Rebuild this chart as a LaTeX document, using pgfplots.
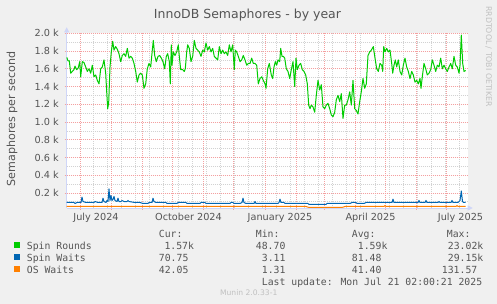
\documentclass[border=0pt]{standalone}
\usepackage{fontspec}
\setmainfont{DejaVu Sans}
\newfontfamily\monofont{DejaVu Sans Mono}
\usepackage{pgfplots}
\usepackage{pgfplotstable}
\pgfplotsset{compat=1.18}
\usetikzlibrary{arrows.meta}
\definecolor{bgc}{HTML}{F0F0F0}
\definecolor{txt}{HTML}{555555}
\definecolor{axc}{HTML}{CFD6F8}
\definecolor{mgrid}{HTML}{F4A0A0}
\definecolor{mingrid}{HTML}{D2D2D2}
\definecolor{cgreen}{HTML}{00CC00}
\definecolor{cblue}{HTML}{0066B3}
\definecolor{corange}{HTML}{FF8000}
\definecolor{wm}{HTML}{C0C0C0}

\pgfplotstableread{
d v
-13.3 1730
-12 1690
-10.7 1690
-9.3 1550
-7.7 1570
-6 1590
-5 1630
-3.3 1590
-1.7 1610
-0.3 1680
0.7 1510
2.3 1680
4 1670
5.7 1620
7.3 1570
9 1600
10.7 1550
12.3 1640
14 1510
15.7 1530
17.3 1470
19 1430
20.7 1600
22.3 1620
24 1700
25.7 1550
26.7 1340
27.7 1150
28.7 1220
30 1620
31.3 1790
32.7 1910
34 1810
35.7 1850
37.3 1820
39 1770
40.7 1680
42.3 1750
44 1770
45.7 1740
47.3 1830
49 1720
50.7 1740
52.3 1720
54 1660
55.7 1570
57.3 1450
59 1530
60.7 1550
62.3 1530
64 1380
65.7 1430
67.3 1600
69 1660
70.7 1620
72.3 1810
73.3 1920
74.7 1750
76.3 1680
78 1740
79.7 1750
81.3 1720
83 1680
84.7 1600
86.3 1740
87.7 1770
89.3 1680
90.3 1430
91.3 1870
92 1640
93.3 1790
95 1750
96.7 1790
98.3 1870
99.3 1740
100.7 1590
102.7 1590
104.3 1570
105.3 1600
106.7 1790
107.7 1870
109.3 1830
111 1680
112.7 1740
114.3 1920
116 1830
117.7 1810
119.3 1790
121 1740
122.7 1810
124.3 1790
126 1890
127.7 1810
129.3 1850
131 1790
132.7 1830
134.3 1740
136 1720
137.7 1700
139.3 1850
141 1770
142.7 1810
144.3 1770
146 1790
147.7 1750
149.3 1870
151 1790
152.7 1870
154.3 1590
155.3 1810
156.7 1790
158.3 1740
160 1680
161.7 1700
163.3 1750
165 1700
166.7 1640
168.3 1660
170 1660
171.7 1720
173.3 1660
175 1660
176.7 1640
178.3 1430
180 1490
181.7 1510
183.3 1470
185 1430
186 1380
187.7 1600
189.3 1660
191.3 1530
192.7 1490
194 1620
195.3 1680
196.7 1640
198 1700
199.7 1680
200.7 1830
202 1740
203.3 1740
204.7 1720
206.3 1600
208 1570
209.7 1490
211.3 1590
213 1680
214.7 1400
216 1720
217.3 1590
219 1640
220.7 1660
222.3 1590
224 1570
225.7 1530
227.3 1430
228.7 1190
230 1150
231.3 1190
233 1170
234.7 1110
236.3 1300
238 1470
239.7 1360
241.3 1420
243 1170
244.7 1150
246.3 1190
248 1210
249.7 1150
251.3 1080
253 1060
254.7 1110
256.3 1250
258 1300
259.7 1230
261.3 1320
263 1040
264.7 1190
266.3 1190
268 1250
269.7 1340
271.3 1190
273 1470
274.7 1150
276.3 1130
278 1090
279.7 1230
281.3 1340
283 1490
284.7 1380
286.3 1430
288 1750
289.7 1790
291.3 1810
293.3 1850
295 1720
296.7 1600
298.3 1570
300 1660
301.7 1640
302.7 1570
303.7 1850
305 1790
306.7 1830
308.3 1790
310 1810
311.7 1660
312.7 1550
314 1640
315.3 1700
316.7 1620
318.3 1700
320 1570
321.7 1530
323.3 1640
325 1720
326.7 1620
328.3 1570
330 1490
331.7 1570
333.3 1530
335 1450
336.7 1470
338.3 1430
340 1490
341 1380
342.3 1510
344 1660
345.7 1600
347.3 1530
349 1550
350.7 1590
352.3 1700
354 1640
355.7 1570
357.3 1640
359 1620
360.7 1720
362.3 1600
364 1640
365.7 1600
367.3 1570
369 1620
370.7 1660
372.3 1600
374 1740
375.7 1640
377.3 1620
379 1550
380 1640
381.3 1980
382.7 1660
384 1570
385.7 1580
}\spinrounds

\pgfplotstableread{
d v
-13.3 92
-6 92
-5 81
-3 92
1 92
2 152
3 103
6 92
14 92
15 103
18 92
22 92
23 140
24 103
26 92
27 115
28 103
29 245
30 115
31 170
32 115
33 126
34 160
35 115
37 103
38 140
39 103
41 103
42 115
44 103
47 103
48 115
49 103
55 92
60 92
63 81
68 81
69 92
72 92
73 140
74 103
76 92
86 92
87 81
97 81
98 92
106 92
107 81
120 81
121 92
125 92
126 81
150 81
151 92
153 92
154 81
160 81
162 92
163 140
164 92
166 81
174 81
175 103
176 81
198 81
199 92
200 130
201 92
204 92
205 81
228 81
229 70
246 70
247 81
270 81
272 92
276 92
277 81
284 81
286 92
312 92
313 130
314 92
338 92
339 115
340 92
345 92
346 115
347 92
358 92
359 103
360 92
371 92
372 115
373 92
378 92
379 103
380 115
381.3 222
382.5 103
383.5 92
385.7 92
}\spinwaits

\pgfplotstableread{
d v
-13.3 47
226 47
229 36
262 36
265 47
304 47
305 58
306 47
376 47
377 58
378 47
385.7 47
}\oswaits

\begin{document}
\begin{tikzpicture}[x=1pt,y=1pt]
\fill[bgc] (0,0) rectangle (497,304);
\begin{axis}[
  at={(66.7pt,96pt)}, anchor=south west,
  scale only axis, width=401.3pt, height=174.7pt,
  xmin=-13.3, xmax=388, ymin=30, ymax=2000,
  axis x line=bottom, axis y line=left,
  axis background/.style={fill=white},
  x axis line style={draw=axc, line width=0.6pt, -{Triangle[length=5pt,width=5pt]}, shorten >=-4.7pt},
  y axis line style={draw=axc, line width=0.6pt, -{Triangle[length=5pt,width=5pt]}, shorten >=-6pt},
  xtick={0,31.1,62.3,92.4,123.6,153.7,184.9,216,244.2,275.3,305.5,336.6,366.7},
  xticklabels={},
  minor xtick={13.4,27.47,...,386},
  extra x ticks={16,108.5,200,290.5,380.5},
  extra x tick labels={July 2024,October 2024,January 2025,April 2025,July 2025},
  extra x tick style={grid=none, major tick length=0pt,
     xticklabel style={anchor=base, yshift=-12.5pt, inner sep=0pt}},
  ytick={200,400,...,2000},
  yticklabels={0.2 k,0.4 k,0.6 k,0.8 k,1.0 k,1.2 k,1.4 k,1.6 k,1.8 k,2.0 k},
  minor ytick={100,300,...,1900},
  yticklabel style={anchor=east, inner sep=0pt, xshift=-5.7pt},
  ticklabel style={font=\fontsize{9.7}{11}\selectfont, text=txt},
  grid=both,
  major grid style={draw=mgrid, line width=0.6pt, dash pattern=on 1pt off 1pt},
  minor grid style={draw=mingrid, line width=0.6pt, dash pattern=on 1pt off 1pt},
  tick align=outside,
  major tick length=2pt, minor tick length=0pt,
  major tick style={draw=mgrid, line width=0.6pt},
  clip=true,
]
\addplot[cgreen, line width=1pt, line join=round] table[x=d,y=v] {\spinrounds};
\addplot[cblue, line width=1pt, line join=round] table[x=d,y=v] {\spinwaits};
\addplot[corange, line width=1pt, line join=round] table[x=d,y=v] {\oswaits};
\end{axis}
% title and labels
\node[anchor=base, inner sep=0pt, text=txt, font=\fontsize{12.5}{14}\selectfont] at (247.5,285.7) {InnoDB Semaphores - by year};
\node[anchor=base, inner sep=0pt, rotate=90, text=txt, font=\fontsize{11.1}{13}\selectfont] at (15,185) {Semaphores per second};
\node[anchor=base, inner sep=0pt, rotate=-90, text=wm, font=\fontsize{7.8}{9}\selectfont] at (486,247.5) {RRDTOOL / TOBI OETIKER};
% legend
\begin{scope}[every node/.style={anchor=base west, inner sep=0pt, text=txt, font=\monofont\fontsize{9.8}{11}\selectfont}]
\node at (158.7,66.7) {Cur:};
\node at (255.7,66.7) {Min:};
\node at (351.7,66.7) {Avg:};
\node at (446.7,66.7) {Max:};
\fill[cgreen] (14,55.5) rectangle (20,61.5);
\node at (26.7,54.7) {Spin Rounds};
\node at (164.3,54.7) {1.57k};
\node at (255.7,54.7) {48.70};
\node at (357.7,54.7) {1.59k};
\node at (447.7,54.7) {23.02k};
\fill[cblue] (14,43.5) rectangle (20,49.5);
\node at (26.7,42.7) {Spin Waits};
\node at (158.7,42.7) {70.75};
\node at (261.7,42.7) {3.11};
\node at (351.7,42.7) {81.48};
\node at (447.7,42.7) {29.15k};
\fill[corange] (14,31.5) rectangle (20,37.5);
\node at (26.7,30.7) {OS Waits};
\node at (158.7,30.7) {42.05};
\node at (261.7,30.7) {1.31};
\node at (351.7,30.7) {41.40};
\node at (441.7,30.7) {131.57};
\node at (261.7,18.7) {Last update: Mon Jul 21 02:00:21 2025};
\end{scope}
\node[anchor=base, inner sep=0pt, text=wm, font=\fontsize{7.6}{9}\selectfont] at (248.7,8) {Munin 2.0.33-1};
\pgfresetboundingbox
\useasboundingbox (0,0) rectangle (497,304);
\end{tikzpicture}
\end{document}
